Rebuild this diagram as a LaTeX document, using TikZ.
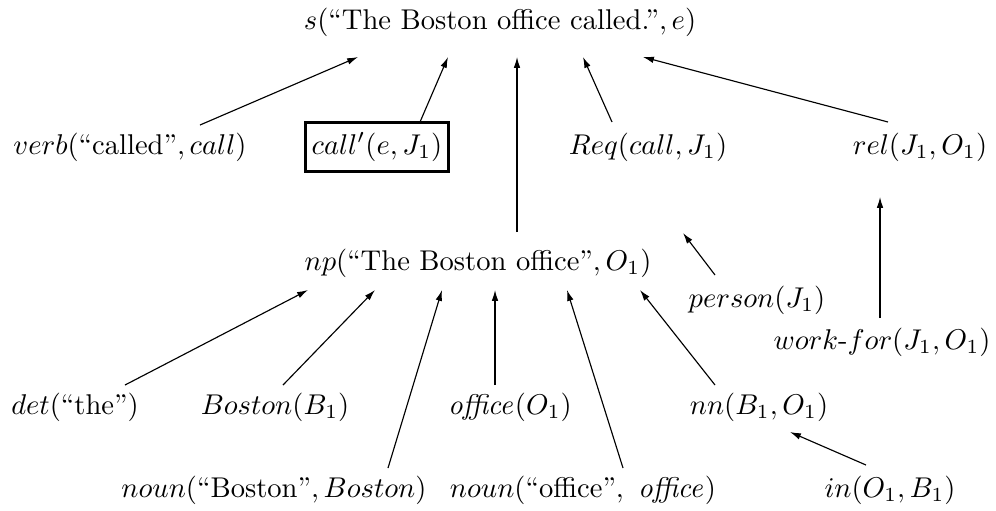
\documentclass[tikz,border=0pt]{standalone}
\usetikzlibrary{arrows.meta,calc}
\begin{document}
\begin{tikzpicture}[x=0.35pt,y=-0.35pt,
  lbl/.style={inner sep=0pt, anchor=center},
  boxed/.style={draw, line width=0.9pt, inner xsep=2.2pt, inner ysep=3.5pt, anchor=center},
  arr/.style={line width=0.4pt, -{Latex[length=3.8pt,width=2.3pt]}}]
\useasboundingbox (0,0) rectangle (996,510);
% nodes
\node[lbl] (s) at (500,22) {$s(\mbox{“The Boston office called.”}, e)$};
\node[lbl] (verb) at (130,147) {$verb(\mbox{“called”}, call)$};
\node[boxed] (call) at (377,147) {$call'(e, J_1)$};
\node[lbl] (req) at (648,147) {$Req(call, J_1)$};
\node[lbl] (rel) at (920,147) {$rel(J_1, O_1)$};
\node[lbl] (np) at (478,263) {$np(\mbox{“The Boston office”}, O_1)$};
\node[lbl] (person) at (757,300) {$person(J_1)$};
\node[lbl] (wf) at (882,342) {$work\mbox{-}for(J_1, O_1)$};
\node[lbl] (det) at (75,407) {$det(\mbox{“the”})$};
\node[lbl] (boston) at (275,407) {$Boston(B_1)$};
\node[lbl] (office) at (510,407) {$\mathit{office}(O_1)$};
\node[lbl] (nn) at (759,407) {$nn(B_1, O_1)$};
\node[lbl] (noun1) at (274,490) {$noun(\mbox{“Boston”}, Boston)$};
\node[lbl] (noun2) at (583,490) {$noun(\mbox{“office”},\ \mathit{office})$};
\node[lbl] (in) at (890,490) {$in(O_1, B_1)$};
% connectors
\draw[arr] ($(verb)+(70,-22)$) -- ($(s)+(-142,35)$);
\draw[arr] ($(call)+(43,-25)$) -- ($(s)+(-52,35)$);
\draw[arr] ($(np)+(39,-31)$) -- ($(s)+(17,35)$);
\draw[arr] ($(req)+(-36,-25)$) -- ($(s)+(83,35)$);
\draw[arr] ($(rel)+(-32,-25)$) -- ($(s)+(143,35)$);
\draw[arr] ($(det)+(50,-22)$) -- ($(np)+(-170,27)$);
\draw[arr] ($(boston)+(8,-22)$) -- ($(np)+(-103,27)$);
\draw[arr] ($(noun1)+(114,-22)$) -- ($(np)+(-36,27)$);
\draw[arr] ($(office)+(-15,-22)$) -- ($(np)+(17,27)$);
\draw[arr] ($(noun2)+(40,-22)$) -- ($(np)+(89,27)$);
\draw[arr] ($(nn)+(-44,-22)$) -- ($(np)+(162,27)$);
\draw[arr] ($(person)+(-42,-25)$) -- ($(req)+(35,86)$);
\draw[arr] ($(wf)+(-2,-24)$) -- ($(rel)+(-40,50)$);
\draw[arr] ($(in)+(-24,-25)$) -- ($(nn)+(31,25)$);
\end{tikzpicture}
\end{document}
